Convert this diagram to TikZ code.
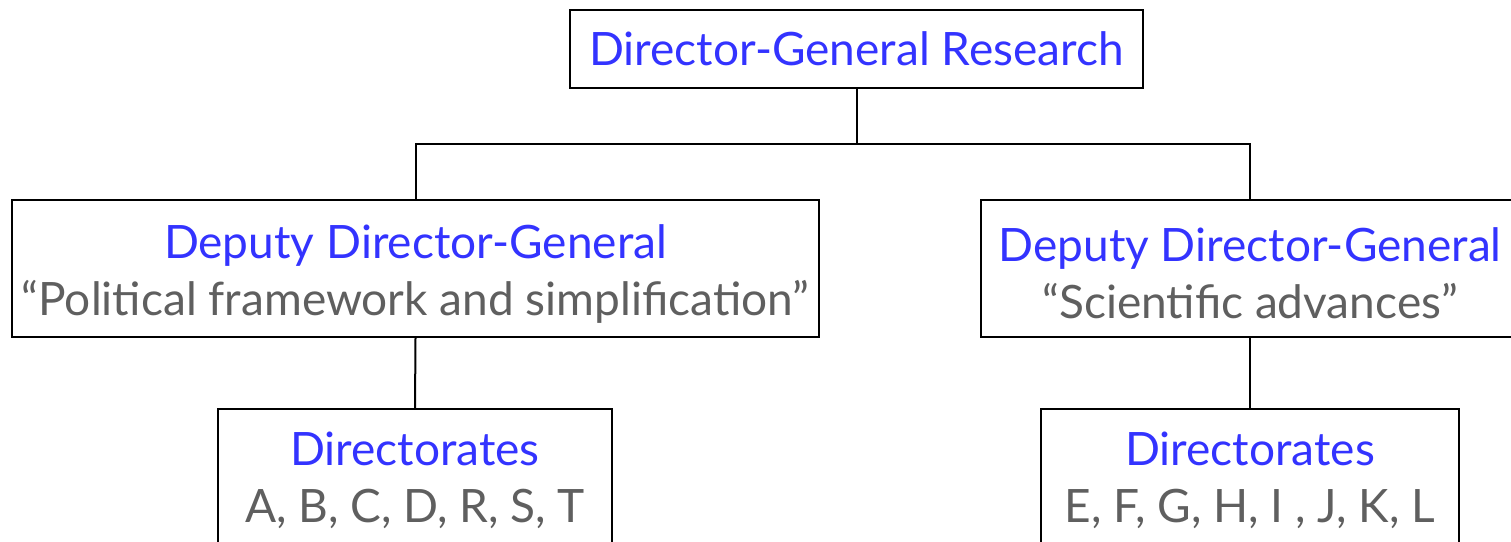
\documentclass[tikz,border=0pt]{standalone}
\usepackage{fontspec}
\setmainfont{Lato}
\definecolor{headblue}{RGB}{51,51,255}
\definecolor{notegrey}{RGB}{95,95,95}
\begin{document}
\begin{tikzpicture}[x=1pt,y=-1pt,
  orgbox/.style={draw=black, line width=2pt, fill=white, inner sep=0pt,
    align=center, font=\fontsize{46}{57}\selectfont},
  boxtext/.style={align=center, inner sep=0pt, font=\fontsize{46}{57}\selectfont},
  link/.style={draw=black, line width=2pt},
]
\useasboundingbox (0,0) rectangle (1511,541);

% Director-General
\node[orgbox, minimum width=573pt, minimum height=78pt] (dg) at (856.5,49)
  {\color{headblue}Director-General Research};

% Deputy Directors-General (text set slightly below the box centre)
\node[orgbox, minimum width=807pt, minimum height=137pt,
  label={[boxtext, yshift=-5pt]center:{\color{headblue}Deputy Director-General\\
   \color{notegrey}“Political framework and simplification”}}] (dl) at (415.5,268.5) {};
\node[orgbox, minimum width=538pt, minimum height=137pt,
  label={[boxtext, yshift=-5pt]center:{\color{headblue}Deputy Director-General\\
   \color{notegrey}“Scientific advances”}}] (dr) at (1250,268.5) {};

% Directorates
\node[orgbox, minimum width=394pt, minimum height=142pt] (tl) at (415,480)
  {\color{headblue}Directorates\\
   \color{notegrey}A, B, C, D, R, S, T};
\node[orgbox, minimum width=418pt, minimum height=142pt] (tr) at (1250,480)
  {\color{headblue}Directorates\\
   \color{notegrey}E, F, G, H, I , J, K, L};

% Connectors
\coordinate (bar) at (0,144);
\draw[link] (dg.south) -- (bar -| dg.south);
\draw[link] (dl.north) |- (bar -| dg.south) -| (dr.north);
\draw[link] (dl.south) -- (tl.north);
\draw[link] (dr.south) -- (tr.north);
\end{tikzpicture}
\end{document}
